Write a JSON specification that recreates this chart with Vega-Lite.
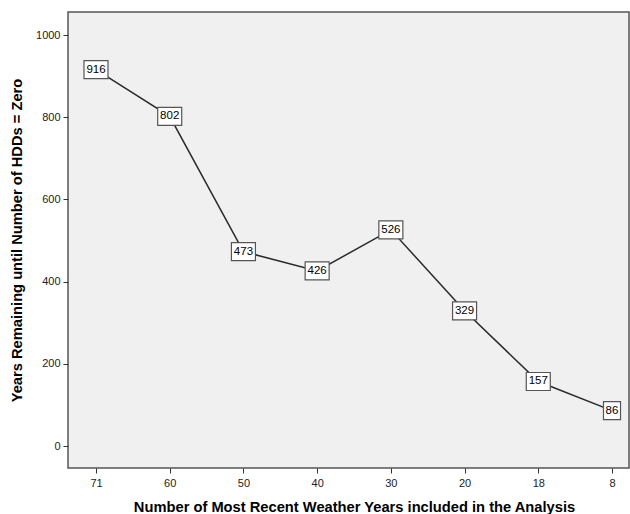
{
  "$schema": "https://vega.github.io/schema/vega-lite/v6.json",
  "width": 561,
  "height": 456,
  "autosize": {"type": "none"},
  "padding": {"left": 68, "top": 12, "right": 1, "bottom": 46},
  "background": "white",
  "config": {
    "view": {"fill": "#f0f0f0", "stroke": "#555555", "strokeWidth": 1.5},
    "font": "Liberation Sans"
  },
  "data": {
    "values": [
      {"years_included": "71", "years_remaining": 916},
      {"years_included": "60", "years_remaining": 802},
      {"years_included": "50", "years_remaining": 473},
      {"years_included": "40", "years_remaining": 426},
      {"years_included": "30", "years_remaining": 526},
      {"years_included": "20", "years_remaining": 329},
      {"years_included": "18", "years_remaining": 157},
      {"years_included": "8", "years_remaining": 86}
    ]
  },
  "encoding": {
    "x": {
      "field": "years_included",
      "type": "ordinal",
      "sort": null,
      "scale": {"type": "point", "range": [28, 544], "padding": 0},
      "axis": {
        "title": "Number of Most Recent Weather Years included in the Analysis",
        "titleFontSize": 14.7,
        "titleFontWeight": "bold",
        "titleColor": "#000000",
        "titlePadding": 11,
        "labelAngle": 0,
        "labelFontSize": 11,
        "labelColor": "#222222",
        "labelPadding": 4,
        "tickSize": 5,
        "tickColor": "#333333",
        "domain": false,
        "grid": false
      }
    },
    "y": {
      "field": "years_remaining",
      "type": "quantitative",
      "scale": {"domain": [-53.5, 1056], "nice": false, "zero": false},
      "axis": {
        "title": "Years Remaining until Number of HDDs = Zero",
        "titleFontSize": 14.7,
        "titleFontWeight": "bold",
        "titleColor": "#000000",
        "titlePadding": 11,
        "values": [0, 200, 400, 600, 800, 1000],
        "format": "d",
        "labelFontSize": 11,
        "labelColor": "#222222",
        "labelPadding": 3,
        "tickSize": 5,
        "tickColor": "#333333",
        "domain": false,
        "grid": false
      }
    }
  },
  "layer": [
    {
      "mark": {"type": "line", "color": "#2a2a2a", "strokeWidth": 1.5}
    },
    {
      "mark": {
        "type": "point",
        "filled": true,
        "fill": "white",
        "stroke": "#555555",
        "strokeWidth": 1.2,
        "opacity": 1,
        "size": 576
      },
      "encoding": {
        "shape": {
          "condition": {"test": "datum.years_remaining < 100", "value": "M-0.71,-0.75L0.71,-0.75L0.71,0.75L-0.71,0.75Z"},
          "value": "M-1,-0.75L1,-0.75L1,0.75L-1,0.75Z"
        }
      }
    },
    {
      "mark": {"type": "text", "fontSize": 11.5, "color": "#000000", "baseline": "middle", "align": "center"},
      "encoding": {
        "text": {"field": "years_remaining", "type": "quantitative", "format": "d"}
      }
    }
  ]
}
